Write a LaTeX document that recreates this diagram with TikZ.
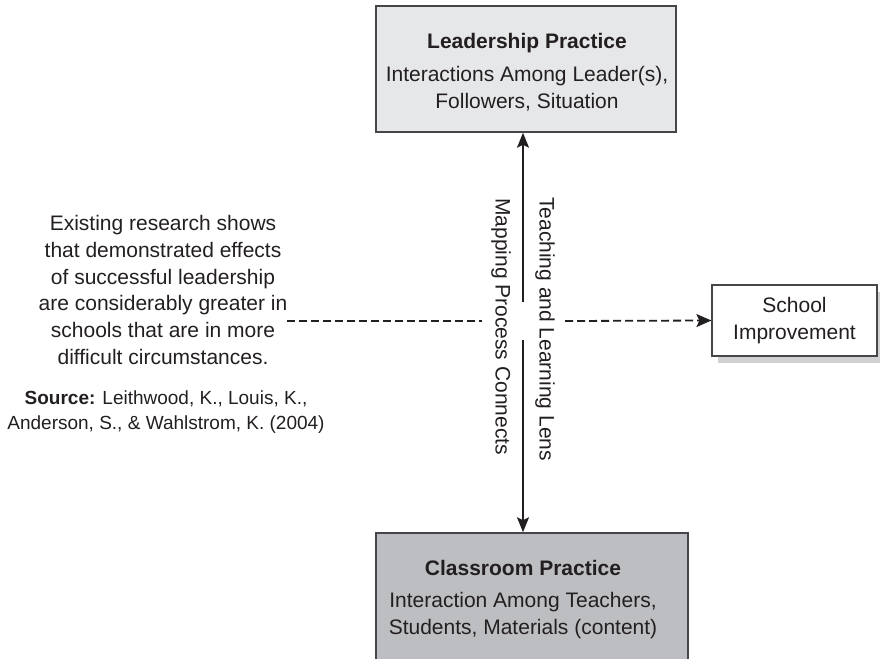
\documentclass[tikz,border=0pt]{standalone}
\usepackage{fontspec}
\setmainfont{Liberation Sans}
\usepackage{tikz}
\usetikzlibrary{arrows.meta,positioning,shadows}
\definecolor{ink}{RGB}{35,31,32}
\definecolor{edge}{RGB}{70,70,72}
\definecolor{paleF}{RGB}{230,231,233}
\definecolor{darkF}{RGB}{189,190,194}
\definecolor{shade}{RGB}{208,209,211}
\tikzset{
  txt/.style={font=\fontsize{21}{27}\selectfont,text=ink,align=center},
  frame/.style={draw=edge,line width=1.5pt,inner sep=0pt},
  goal/.style={txt,draw=edge,fill=white,line width=1.2pt,minimum width=165pt,
    minimum height=71pt,inner sep=0pt,
    general shadow={fill=shade,draw=none,shadow xshift=6pt,shadow yshift=-7pt}},
  lens/.style={txt,rotate=-90,anchor=west,inner sep=0pt},
  arr/.style={-{Stealth[length=15pt,width=12pt,inset=3pt]},line width=1.8pt,ink},
  dashln/.style={dash pattern=on 8pt off 4pt,line width=1.8pt,ink},
}
\begin{document}
\begin{tikzpicture}[x=1pt,y=-1pt]
  \useasboundingbox (0,0) rectangle (880,658);
  % the two practices, joined through the middle
  \node[frame,fill=paleF,minimum width=300pt,minimum height=126pt] (leader) at (526,69) {};
  \node[txt] (leaderText) at (527,72)
    {\textbf{Leadership Practice}\\[6pt]Interactions Among Leader(s),\\Followers, Situation};
  \node[frame,fill=darkF,minimum width=312pt,minimum height=130pt] (classroom) at (532,598) {};
  \node[txt] (classroomText) at (523,599.5)
    {\textbf{Classroom Practice}\\[5pt]Interaction Among Teachers,\\Students, Materials (content)};
  \node[goal] (school) at (794.5,320.5) {School\\Improvement};

  \node[txt,font=\fontsize{21}{26.8}\selectfont] (research) at (163,290)
    {Existing research shows\\that demonstrated effects\\of successful leadership\\
     are considerably greater in\\schools that are in more\\difficult circumstances.};
  \node[txt,font=\fontsize{19}{25}\selectfont] (source) at (166,412)
    {\textbf{Source:} Leithwood, K., Louis, K.,\\Anderson, S., \& Wahlstrom, K. (2004)};

  \coordinate (dashL) at (287,321);
  \coordinate (gapL) at (482,321);
  \coordinate (gapR) at (565,321);
  \coordinate (gapT) at (523,302);
  \coordinate (gapB) at (523,340);
  \draw[dashln] (dashL) -- (gapL);
  \draw[dashln,-{Stealth[length=15pt,width=13pt,inset=3pt]}] (gapR) -- (school.west);
  \draw[arr] (gapT) -- (gapT |- leader.south);
  \draw[arr] (gapB) -- (gapB |- classroom.north);

  \node[lens] (lensR) at (545,197) {Teaching and Learning Lens};
  \node[lens] (lensL) at (501,198) {Mapping Process Connects};
\end{tikzpicture}
\end{document}
